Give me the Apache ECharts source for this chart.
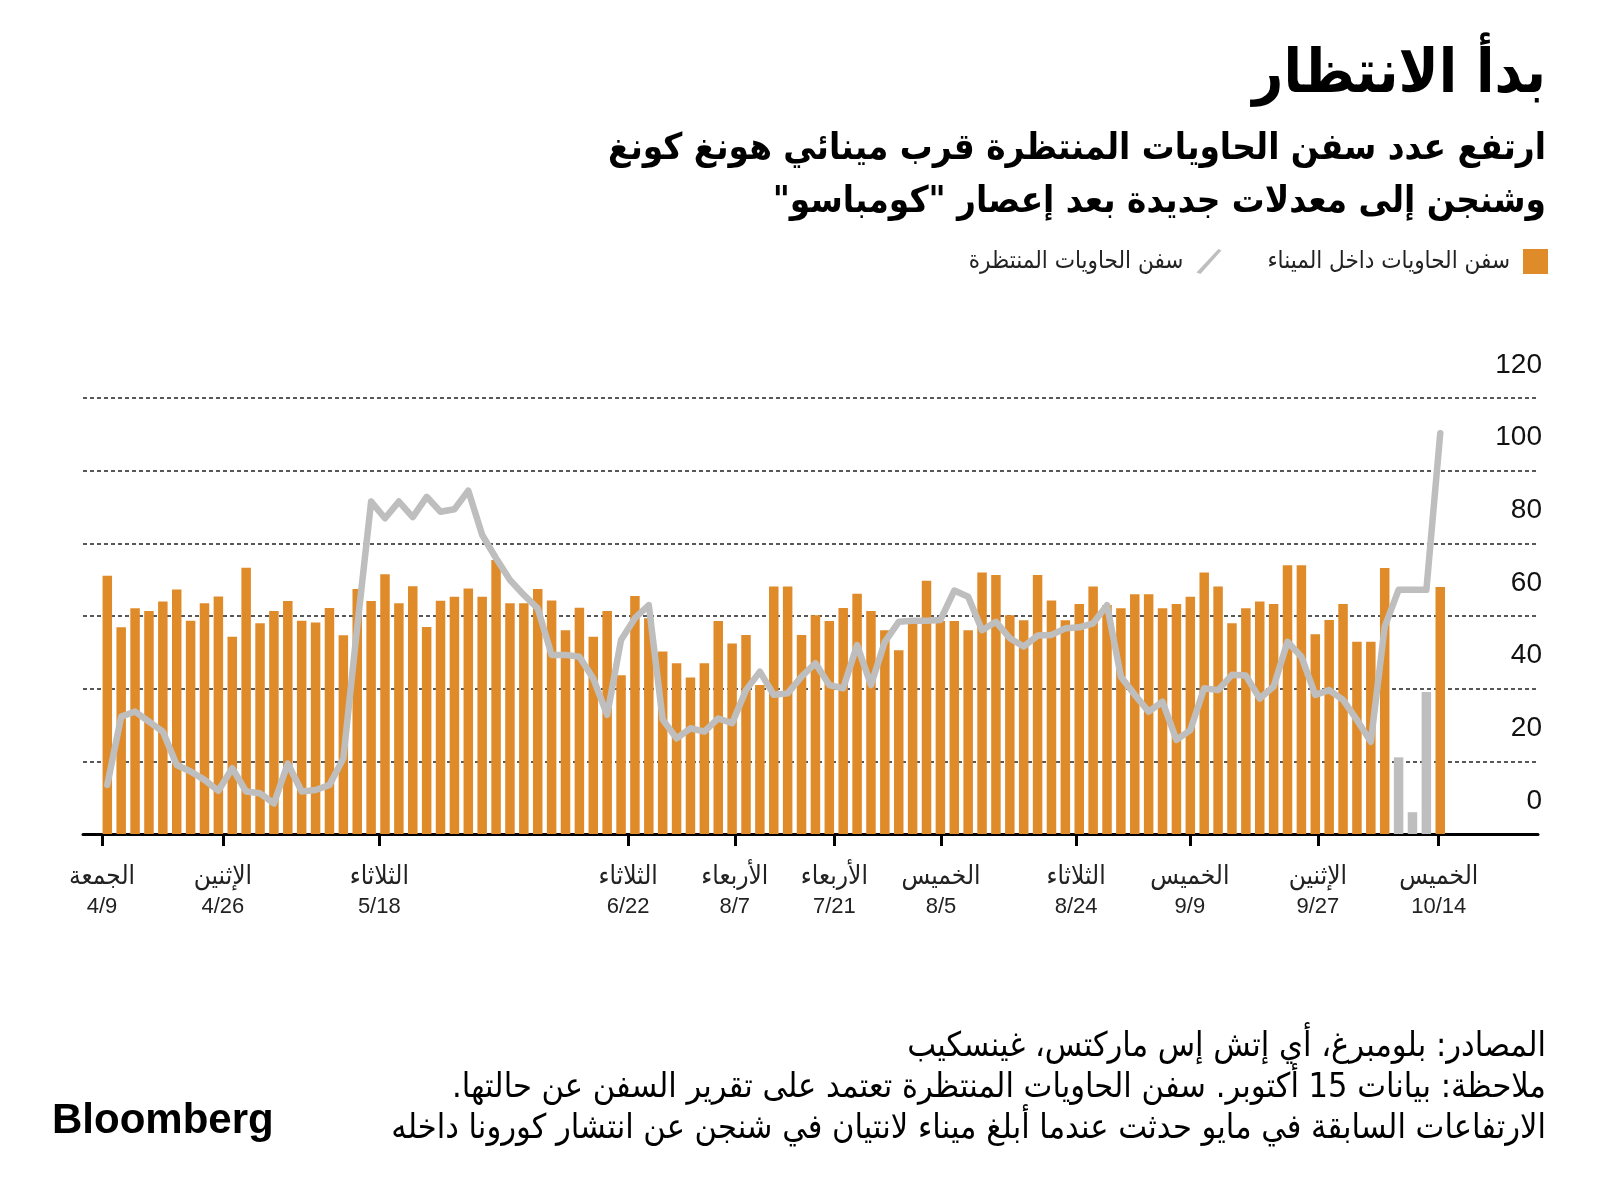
<!DOCTYPE html>
<html>
<head>
<meta charset="utf-8">
<script src="https://cdn.jsdelivr.net/npm/echarts@6/dist/echarts.min.js"></script>
<style>
html,body{margin:0;padding:0;background:#fff;}
#chart{width:1600px;height:1197px;}
</style>
</head>
<body>
<div id="chart" dir="rtl"></div>
<script>
// ---- data ----
const barName = 'سفن الحاويات داخل الميناء';
const lineName = 'سفن الحاويات المنتظرة';

// container ships inside the port (bars), one value per observation
const inPort = [
  71.1, 56.9, 62.1, 61.4, 64.0, 67.3, 58.7, 63.5, 65.4, 54.3,
  73.3, 58.0, 61.4, 64.1, 58.7, 58.2, 62.2, 54.7, 67.4, 64.1,
  71.5, 63.5, 68.2, 57.0, 64.2, 65.3, 67.6, 65.3, 75.4, 63.5,
  63.5, 67.4, 64.3, 56.1, 62.3, 54.3, 61.4, 43.7, 65.5, 59.4,
  50.2, 47.0, 43.1, 47.0, 58.6, 52.4, 54.8, 41.0, 68.1, 68.1,
  54.8, 60.2, 58.6, 62.2, 66.1, 61.4, 56.1, 50.6, 58.0, 69.7,
  58.6, 58.6, 56.1, 72.0, 71.3, 60.2, 58.8, 71.3, 64.3, 58.8,
  63.3, 68.1, 63.0, 62.1, 66.0, 66.0, 62.1, 63.3, 65.3, 72.0,
  68.1, 58.0, 62.1, 64.0, 63.3, 74.0, 74.0, 55.0, 58.9, 63.3,
  52.9, 52.9, 73.2, 21.1, 6.0, 39.1, 68.0
];
// observations shown in grey in the original (incomplete readings)
const greyBarIndex = [93, 94, 95];

// container ships waiting outside (line)
const waiting = [
  13.5, 32.3, 33.7, 30.9, 28.2, 19.0, 17.2, 14.9, 11.9, 18.1,
  11.7, 11.2, 8.4, 19.4, 11.7, 12.1, 13.5, 20.8, 57.0, 91.5,
  86.9, 91.5, 87.2, 92.8, 88.7, 89.4, 94.5, 82.3, 75.9, 69.9,
  65.8, 62.1, 49.3, 49.3, 48.8, 42.8, 32.8, 53.4, 59.4, 63.0,
  31.5, 26.3, 29.1, 28.2, 31.8, 30.5, 39.6, 44.7, 38.3, 38.7,
  43.3, 47.0, 41.0, 40.1, 52.0, 41.0, 52.9, 58.4, 58.7, 58.7,
  58.9, 67.0, 65.3, 56.1, 58.4, 53.9, 51.6, 54.6, 54.8, 56.6,
  56.9, 58.0, 63.0, 43.3, 38.3, 33.7, 36.4, 25.9, 28.6, 40.1,
  39.6, 43.8, 43.6, 37.3, 40.6, 52.9, 48.8, 38.3, 39.6, 36.9,
  31.4, 25.4, 57.1, 67.2, 67.2, 67.2, 110.3
];

// x-axis tick dates and their labels
const tickDates = ['2021-04-09','2021-04-26','2021-05-18','2021-06-22','2021-07-07','2021-07-21',
                   '2021-08-05','2021-08-24','2021-09-09','2021-09-27','2021-10-14'];
const tickDays = ['الجمعة','الإثنين','الثلاثاء','الثلاثاء','الأربعاء','الأربعاء',
                  'الخميس','الثلاثاء','الخميس','الإثنين','الخميس'];
const tickLabels = ['4/9','4/26','5/18','6/22','8/7','7/21','8/5','8/24','9/9','9/27','10/14'];

const yTicks = [0, 20, 40, 60, 80, 100, 120];

const titleText = 'بدأ الانتظار';
const subtitleLines = [
  'ارتفع عدد سفن الحاويات المنتظرة قرب مينائي هونغ كونغ',
  'وشنجن إلى معدلات جديدة بعد إعصار "كومباسو"'
];
const footerLines = [
  'المصادر: بلومبرغ، أي إتش إس ماركتس، غينسكيب',
  'ملاحظة: بيانات 15 أكتوبر. سفن الحاويات المنتظرة تعتمد على تقرير السفن عن حالتها.',
  'الارتفاعات السابقة في مايو حدثت عندما أبلغ ميناء لانتيان في شنجن عن انتشار كورونا داخله'
];

// ---- build ----
const ORANGE = '#E08B2A';
const GREY = '#BEBEBE';
const AR = '"DejaVu Sans Condensed", "DejaVu Sans", sans-serif';
const NUM = '"Liberation Sans", "DejaVu Sans Condensed", sans-serif';

const DAY = 86400000;
function dayOffset(s, base){ return Math.round((Date.parse(s + 'T00:00:00Z') - Date.parse(base + 'T00:00:00Z')) / DAY); }
// date axis measured in days since the first tick date
const tickPos = tickDates.map(d => dayOffset(d, tickDates[0]));

const chart = echarts.init(document.getElementById('chart'), null, {renderer:'canvas'});

const graphic = [
  {type:'text', right: 54, top: 46, style:{text: titleText, font: 'bold 60px ' + AR, fill:'#000', textAlign:'right'}},
  {type:'text', right: 54, top: 131, style:{text: subtitleLines[0], font: 'bold 36.5px ' + AR, fill:'#000', textAlign:'right'}},
  {type:'text', right: 54, top: 184, style:{text: subtitleLines[1], font: 'bold 36.5px ' + AR, fill:'#000', textAlign:'right'}},
  {type:'text', right: 54, top: 1030, style:{text: footerLines[0], font: '34px ' + AR, fill:'#000', textAlign:'right'}},
  {type:'text', right: 54, top: 1071, style:{text: footerLines[1], font: '34px ' + AR, fill:'#000', textAlign:'right'}},
  {type:'text', right: 54, top: 1112, style:{text: footerLines[2], font: '34px ' + AR, fill:'#000', textAlign:'right'}},
  {type:'text', left: 52, top: 1100, style:{text: 'Bloomberg', font: 'bold 42px "Liberation Sans", Arial, sans-serif', fill:'#000'}}
];

const option = {
  animation: false,
  backgroundColor: '#fff',
  graphic: graphic,
  legend: {
    right: 47, top: 244,
    itemWidth: 25, itemHeight: 25, itemGap: 46,
    align: 'right',
    selectedMode: false,
    textStyle: {fontFamily: AR, fontSize: 24, color: '#222', padding: [0, 8, 0, 0]},
    data: [
      {name: lineName, icon: 'path://M22,0 L25,1.5 L4,25 L0,23.5 Z', itemStyle:{color: GREY}},
      {name: barName, icon: 'rect', itemStyle:{color: ORANGE}}
    ]
  },
  grid: {left: 83, right: 62, top: 398, bottom: 363},
  xAxis: [
    {type: 'value', min: -1.75, max: 103.04, show: false},
    {type: 'value', position: 'bottom',
     min: -2.67, max: 201.96,
     axisLine: {show: true, onZero: false, lineStyle: {color: '#000', width: 3}},
     axisTick: {show: true, customValues: tickPos, length: 12, lineStyle: {color: '#000', width: 3}},
     axisLabel: {show: true, customValues: tickPos, margin: 28, align: 'center',
       formatter: function(v){ const i = tickPos.indexOf(v); return i < 0 ? '' : '{d|' + tickDays[i] + '}\n{n|' + tickLabels[i] + '}'; },
       rich: {
         d: {fontFamily: AR, fontSize: 26, lineHeight: 30, color: '#222', align: 'center'},
         n: {fontFamily: NUM, fontSize: 22, lineHeight: 30, color: '#222', align: 'center'}
       }},
     splitLine: {show: false}
    }
  ],
  yAxis: {
    type: 'value', position: 'right', min: yTicks[0], max: yTicks[yTicks.length-1], interval: 20,
    axisLine: {show: false}, axisTick: {show: false},
    axisLabel: {inside: true, margin: -4, fontFamily: NUM, fontSize: 28, color: '#111',
      verticalAlign: 'bottom', lineHeight: 28, padding: [0, 0, 19, 0]},
    splitLine: {show: true, lineStyle: {color: '#222', width: 1.5, type: [4, 3]}}
  },
  series: [
    {name: barName, type: 'bar', xAxisIndex: 0, barWidth: 9.5,
     data: inPort.map((v, i) => [i, v]),
     itemStyle: {color: function(p){ return greyBarIndex.indexOf(p.dataIndex) >= 0 ? GREY : ORANGE; }},
     z: 2},
    {name: lineName, type: 'line', xAxisIndex: 0, showSymbol: false, symbol: 'none',
     data: waiting.map((v, i) => [i, v]),
     lineStyle: {color: GREY, width: 6.5, cap: 'round', join: 'round'},
     itemStyle: {color: GREY},
     z: 3}
  ]
};
chart.setOption(option);
</script>
</body>
</html>
